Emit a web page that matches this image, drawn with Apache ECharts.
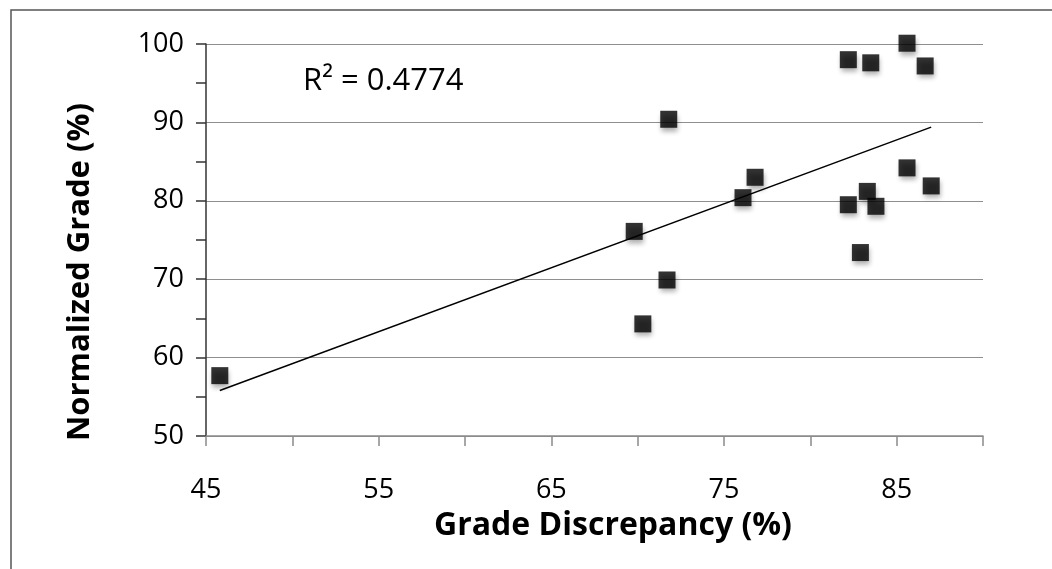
<!DOCTYPE html>
<html>
<head>
<meta charset="utf-8">
<script src="https://cdn.jsdelivr.net/npm/echarts@6/dist/echarts.min.js"></script>
<style>
html,body{margin:0;padding:0;background:#fff;}
#chart{width:1052px;height:569px;}
</style>
</head>
<body>
<div id="chart"></div>
<script>
// Data
var gradeDiscrepancy = [45.8, 69.8, 70.3, 71.8, 71.7, 76.1, 76.8, 82.2, 83.5, 85.6, 86.65, 82.2, 83.3, 83.8, 82.9, 85.6, 87.0];
var normalizedGrade  = [57.7, 76.1, 64.3, 90.4, 69.9, 80.4, 83.0, 98.0, 97.6, 100.1, 97.2, 79.5, 81.2, 79.3, 73.4, 84.2, 81.9];
// Linear trendline end points, as drawn in the reference
var trendX = [45.8, 87.0];
var trendY = [55.8, 89.4];
var xTickLabels = [45, 55, 65, 75, 85];
var yTickLabels = [50, 60, 70, 80, 90, 100];
var rSquaredText = 'R\u00B2 = 0.4774';

var points = gradeDiscrepancy.map(function (x, i) { return [x, normalizedGrade[i]]; });
var trend = trendX.map(function (x, i) { return [x, trendY[i]]; });

var FONT = 'Open Sans';
var chart = echarts.init(document.getElementById('chart'));
chart.setOption({
  animation: false,
  backgroundColor: '#fff',
  grid: { left: 206, right: 69, top: 44, bottom: 133 },
  xAxis: {
    type: 'value', min: 45, max: 90, interval: 5,
    name: 'Grade Discrepancy (%)', nameLocation: 'middle', nameGap: 74,
    nameTextStyle: { fontFamily: FONT, fontWeight: 'bold', fontSize: 32, color: '#000', padding: [0, 0, 0, 37] },
    axisLine: { show: true, lineStyle: { color: '#8a8a8a', width: 1.5 } },
    axisTick: { show: true, inside: false, length: 10, lineStyle: { color: '#8a8a8a', width: 1.5 } },
    splitLine: { show: false },
    axisLabel: {
      margin: 41, fontFamily: FONT, fontSize: 27, color: '#000',
      formatter: function (v) { return xTickLabels.indexOf(Math.round(v)) >= 0 ? String(Math.round(v)) : ''; }
    }
  },
  yAxis: {
    type: 'value', min: 50, max: 100, interval: 10,
    name: 'Normalized Grade (%)', nameLocation: 'middle', nameGap: 110,
    nameTextStyle: { fontFamily: FONT, fontWeight: 'bold', fontSize: 31, color: '#000', padding: [0, 64, 0, 0] },
    axisLine: { show: true, lineStyle: { color: '#333', width: 1.5 } },
    axisTick: { show: true, inside: false, length: 10, lineStyle: { color: '#333', width: 1.5 } },
    minorTick: { show: true, splitNumber: 2, length: 10, lineStyle: { color: '#333', width: 1.5 } },
    splitLine: { show: true, lineStyle: { color: '#8f8f8f', width: 1.2 } },
    axisLabel: {
      margin: 22, fontFamily: FONT, fontSize: 27, color: '#000',
      formatter: function (v) { return yTickLabels.indexOf(Math.round(v)) >= 0 ? String(Math.round(v)) : ''; }
    }
  },
  graphic: [
    { type: 'rect', silent: true, shape: { x: 11, y: 10, width: 1100, height: 700 },
      style: { fill: 'none', stroke: '#555', lineWidth: 1.5 } },
    { type: 'text', left: 303, top: 66, silent: true,
      style: { text: rSquaredText, fontFamily: FONT, fontSize: 31, fill: '#000' } }
  ],
  series: [
    {
      type: 'line', data: trend, showSymbol: false, symbol: 'none', z: 2,
      lineStyle: { color: '#000', width: 1.5 }, silent: true
    },
    {
      type: 'scatter', data: points, symbol: 'rect', symbolSize: 17, z: 3, clip: false,
      itemStyle: { color: '#000', shadowBlur: 5, shadowColor: 'rgba(0,0,0,0.4)', shadowOffsetX: 1, shadowOffsetY: 4 }
    }
  ]
});
</script>
</body>
</html>
